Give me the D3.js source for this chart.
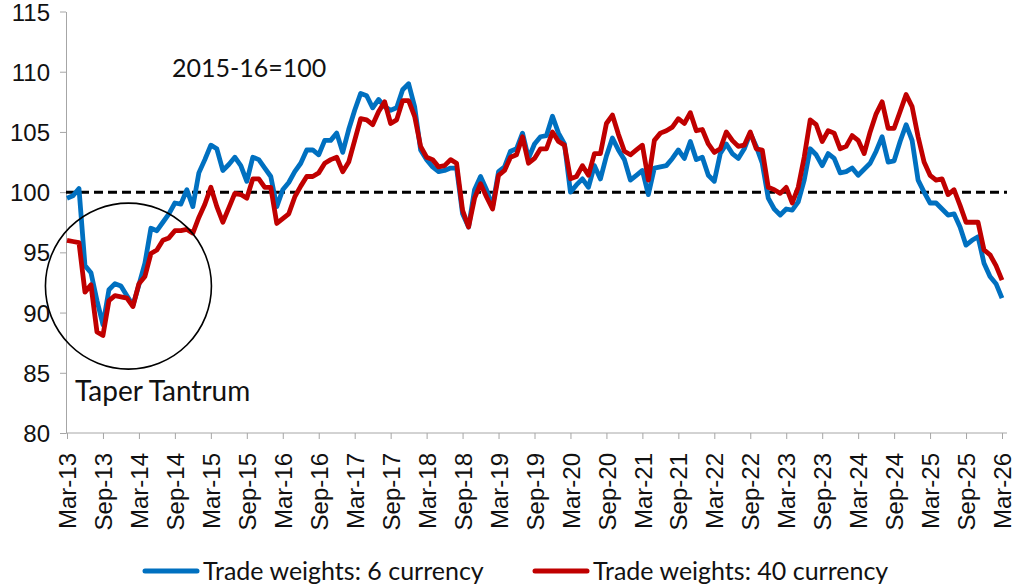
<!DOCTYPE html>
<html>
<head>
<meta charset="utf-8">
<script src="https://cdn.jsdelivr.net/npm/d3@7"></script>
<style>
  body { margin: 0; background: #fff; }
  svg { display: block; font-family: Lato, "Open Sans", sans-serif; }
</style>
</head>
<body>
<svg id="chart" width="1015" height="587"></svg>
<script>
// monthly index values, Mar-13 .. Mar-26
const sixCurrency = [
  99.5, 99.7, 100.3, 93.9, 93.3, 91.0, 89.0, 91.9, 92.4, 92.2, 91.4, 90.6,
  92.3, 94.1, 97.0, 96.8, 97.5, 98.2, 99.1, 99.0, 100.2, 98.8, 101.6, 102.7,
  103.9, 103.6, 101.8, 102.3, 102.9, 102.2, 100.9, 102.9, 102.7, 102.0, 101.3, 98.8,
  100.2, 100.8, 101.7, 102.4, 103.5, 103.5, 103.1, 104.3, 104.3, 104.9, 103.3, 105.2,
  106.8, 108.2, 108.0, 107.0, 107.7, 107.1, 106.8, 107.0, 108.5, 109.0, 107.1, 103.5,
  102.7, 102.1, 101.7, 101.8, 102.0, 102.0, 98.2, 97.1, 100.2, 101.3, 100.2, 98.8,
  101.7, 102.1, 103.4, 103.6, 104.9, 102.8, 104.0, 104.6, 104.7, 106.3, 104.9, 104.0,
  100.0, 100.6, 101.1, 100.4, 102.2, 101.1, 103.0, 104.5, 103.5, 102.7, 101.0, 101.4,
  101.8, 99.8, 102.0, 102.1, 102.2, 102.8, 103.5, 102.8, 104.2, 102.7, 102.9, 101.4,
  100.9, 103.2, 104.0, 103.2, 102.8, 103.6, 104.9, 103.8, 102.4, 99.5, 98.6, 98.1,
  98.6, 98.5, 99.2, 101.0, 103.6, 103.1, 102.2, 103.2, 102.8, 101.6, 101.7, 102.0,
  101.4, 101.9, 102.4, 103.4, 104.6, 102.5, 102.6, 104.2, 105.6, 104.3, 101.0, 100.0,
  99.1, 99.1, 98.6, 98.1, 98.2, 97.1, 95.6, 96.0, 96.3, 94.1, 93.0, 92.4,
  91.2
];

const fortyCurrency = [
  96.0, 95.9, 95.8, 91.7, 92.3, 88.4, 88.1, 91.0, 91.4, 91.3, 91.2, 90.5,
  92.4, 93.0, 94.9, 95.2, 96.0, 96.2, 96.8, 96.8, 96.9, 96.6, 97.9, 99.0,
  100.4, 98.8, 97.5, 98.7, 99.9, 99.8, 99.5, 101.1, 101.1, 100.4, 100.4, 97.4,
  97.8, 98.2, 99.6, 100.5, 101.3, 101.3, 101.6, 102.4, 102.7, 102.9, 101.7, 102.5,
  104.3, 106.1, 106.0, 105.6, 106.7, 107.5, 105.7, 106.0, 107.6, 107.6, 106.3, 103.8,
  102.9, 102.7, 102.1, 102.2, 102.7, 102.4, 98.5, 97.1, 99.5, 100.7, 99.6, 98.6,
  101.4, 101.8, 102.9, 103.1, 104.6, 102.4, 102.8, 103.6, 103.6, 105.0, 104.2, 103.9,
  101.1, 101.3, 102.2, 101.4, 103.2, 103.2, 105.7, 106.4, 104.8, 103.4, 103.1, 103.5,
  103.9, 101.0, 104.3, 104.9, 105.1, 105.4, 106.1, 105.7, 106.6, 105.1, 105.2, 104.0,
  103.3, 103.6, 105.0, 104.3, 103.8, 103.9, 105.0, 103.6, 103.5, 100.4, 100.2, 99.9,
  100.4, 99.1, 100.4, 102.9, 106.0, 105.6, 104.2, 105.1, 104.9, 103.6, 103.8, 104.7,
  104.3, 103.2, 105.0, 106.5, 107.5, 105.3, 105.3, 106.7, 108.1, 107.1, 104.6, 102.5,
  101.4, 101.0, 101.1, 99.8, 100.2, 98.9, 97.5, 97.5, 97.5, 95.2, 94.8, 93.9,
  92.7
];

// one label every six months
const tickLabels = [
  "Mar-13", "Sep-13", "Mar-14", "Sep-14", "Mar-15", "Sep-15", "Mar-16", "Sep-16",
  "Mar-17", "Sep-17", "Mar-18", "Sep-18", "Mar-19", "Sep-19", "Mar-20", "Sep-20",
  "Mar-21", "Sep-21", "Mar-22", "Sep-22", "Mar-23", "Sep-23", "Mar-24", "Sep-24",
  "Mar-25", "Sep-25", "Mar-26"
];
const yTicks = [80, 85, 90, 95, 100, 105, 110, 115];
const seriesNames = ["Trade weights: 6 currency", "Trade weights: 40 currency"];
const baseLevel = 100;

const blue = "#0070C0";
const red = "#C00000";
const axisGrey = "#a6a6a6";

const svg = d3.select("#chart");

const x = d3.scaleLinear().domain([0, sixCurrency.length - 1]).range([67, 1002]);
const y = d3.scaleLinear().domain([80, 115]).range([433, 11.5]);

// y axis
const yAxis = svg.append("g")
  .attr("transform", "translate(66,0)")
  .call(d3.axisLeft(y).tickValues(yTicks).tickSize(6).tickSizeOuter(0).tickPadding(10));
yAxis.select(".domain").attr("stroke", axisGrey);
yAxis.selectAll(".tick line").attr("stroke", axisGrey);
yAxis.selectAll(".tick text")
  .attr("fill", "#111")
  .style("font-size", "24px")
  .attr("dy", "0.36em");

// x axis
const xAxis = svg.append("g")
  .attr("transform", `translate(0,${y(80)})`)
  .call(d3.axisBottom(x)
    .tickValues(tickLabels.map((d, i) => i * 6))
    .tickFormat((d) => tickLabels[d / 6])
    .tickSize(6)
    .tickSizeOuter(0));
xAxis.select(".domain").remove();
xAxis.append("line")
  .attr("x1", 66).attr("x2", 1007)
  .attr("stroke", axisGrey);
xAxis.selectAll(".tick line").attr("stroke", axisGrey);
xAxis.selectAll(".tick text")
  .attr("fill", "#111")
  .style("font-size", "24px")
  .attr("text-anchor", "end")
  .attr("transform", "rotate(-90)")
  .attr("x", -20)
  .attr("y", 0)
  .attr("dy", "0.36em");

// base = 100 dashed line
svg.append("line")
  .attr("x1", 66).attr("x2", 1007)
  .attr("y1", y(baseLevel)).attr("y2", y(baseLevel))
  .attr("stroke", "#000")
  .attr("stroke-width", 3)
  .attr("stroke-dasharray", "9,5");

const line = d3.line()
  .x((d, i) => x(i))
  .y((d) => y(d));

svg.append("path")
  .datum(sixCurrency)
  .attr("fill", "none")
  .attr("stroke", blue)
  .attr("stroke-width", 4.8)
  .attr("stroke-linejoin", "round")
  .attr("d", line);

svg.append("path")
  .datum(fortyCurrency)
  .attr("fill", "none")
  .attr("stroke", red)
  .attr("stroke-width", 4.8)
  .attr("stroke-linejoin", "round")
  .attr("d", line);

// taper tantrum annotation
svg.append("circle")
  .attr("cx", x(10.25))
  .attr("cy", y(92.2))
  .attr("r", 83)
  .attr("fill", "none")
  .attr("stroke", "#000")
  .attr("stroke-width", 1.6);

svg.append("text")
  .attr("x", 75)
  .attr("y", 401)
  .attr("fill", "#111")
  .style("font-size", "28px")
  .text("Taper Tantrum");

svg.append("text")
  .attr("x", 172)
  .attr("y", 77)
  .attr("fill", "#111")
  .style("font-size", "25px")
  .text("2015-16=100");

// legend
const legend = svg.append("g");
const legendItems = [
  { name: seriesNames[0], color: blue, x: 145 },
  { name: seriesNames[1], color: red, x: 535 }
];
legendItems.forEach((d) => {
  legend.append("line")
    .attr("x1", d.x).attr("x2", d.x + 52)
    .attr("y1", 571).attr("y2", 571)
    .attr("stroke", d.color)
    .attr("stroke-width", 5)
    .attr("stroke-linecap", "round");
  legend.append("text")
    .attr("x", d.x + 58)
    .attr("y", 580)
    .attr("fill", "#111")
    .style("font-size", "25px")
    .text(d.name);
});
</script>
</body>
</html>
